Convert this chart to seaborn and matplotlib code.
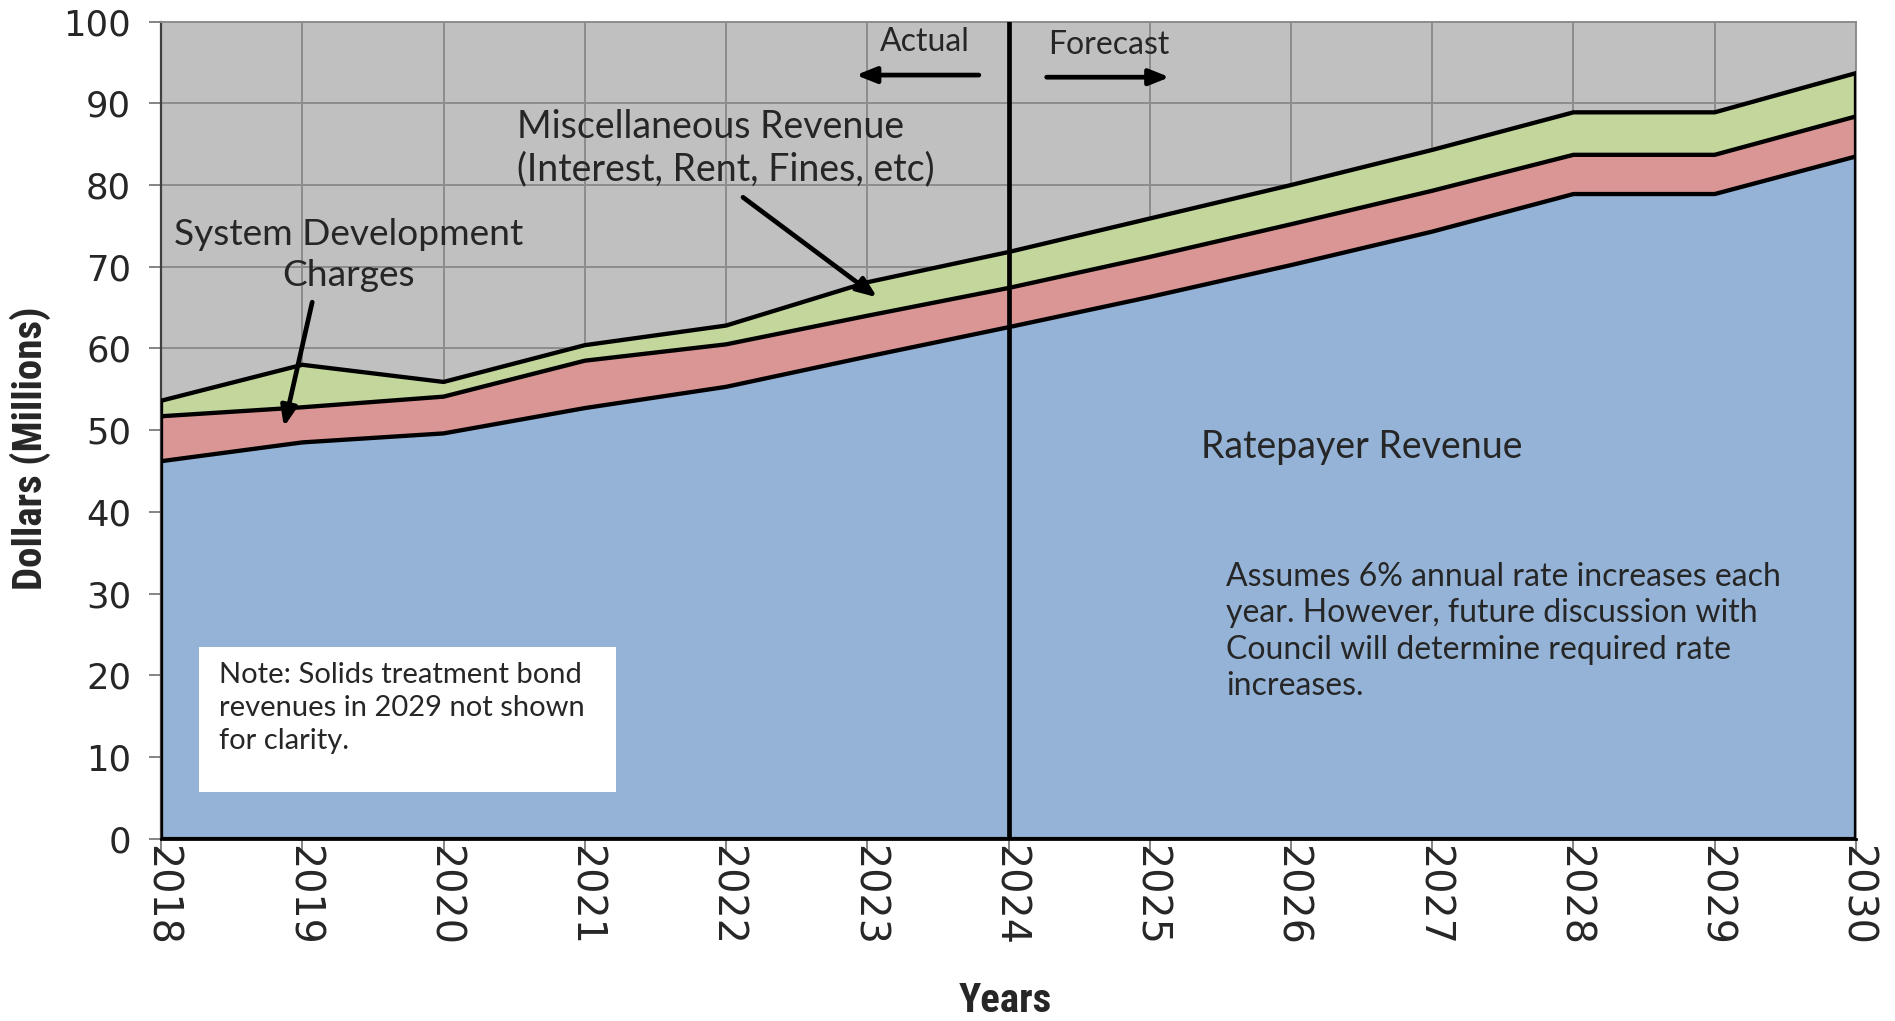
import numpy as np
import pandas as pd
import matplotlib
matplotlib.use("Agg")
import matplotlib.pyplot as plt
from matplotlib import font_manager
import seaborn as sns

# Revenue components, $ millions
years = [2018, 2019, 2020, 2021, 2022, 2023, 2024, 2025, 2026, 2027, 2028, 2029, 2030]
ratepayer = [46.2, 48.5, 49.6, 52.7, 55.3, 59.0, 62.6, 66.3, 70.2, 74.3, 78.9, 78.9, 83.5]
sdc = [5.5, 4.3, 4.5, 5.8, 5.2, 5.0, 4.8, 4.9, 5.0, 5.0, 4.8, 4.8, 4.9]
misc = [1.9, 5.2, 1.8, 1.9, 2.3, 4.1, 4.4, 4.7, 4.8, 5.0, 5.2, 5.2, 5.3]

y_ticks = [0, 10, 20, 30, 40, 50, 60, 70, 80, 90, 100]
split_year = 2024

sns.set_theme(style="white")
plt.rcParams["font.family"] = ["DejaVu Sans"]

TXT = ["Lato", "DejaVu Sans"]

# bold narrow face for the axis titles
installed = {f.name for f in font_manager.fontManager.ttflist}
narrow = [n for n in ["Liberation Sans Narrow", "Roboto Condensed", "Open Sans Condensed",
                      "DejaVu Sans Condensed"] if n in installed]
if narrow:
    title_font = dict(family=[narrow[0], "DejaVu Sans"])
else:
    title_font = dict(family=["DejaVu Sans"], fontstretch="condensed")

blue = "#95B3D7"
red = "#D99694"
green = "#C3D69B"
panel = "#C0C0C0"
gridc = "#8C8C8C"

x = np.array(years, dtype=float)
lvl1 = np.array(ratepayer)
lvl2 = lvl1 + np.array(sdc)
lvl3 = lvl2 + np.array(misc)

fig = plt.figure(figsize=(18.95, 10.21), dpi=100)
ax = fig.add_axes([0.085, 0.1786, 0.9794 - 0.085, 0.9788 - 0.1786])
ax.set_facecolor(panel)

# stacked fills
ax.fill_between(x, 0, lvl1, color=blue, lw=0, zorder=2)
ax.fill_between(x, lvl1, lvl2, color=red, lw=0, zorder=2)
ax.fill_between(x, lvl2, lvl3, color=green, lw=0, zorder=2)

# boundaries of each band
bounds = pd.DataFrame({
    "year": np.tile(x, 3),
    "value": np.concatenate([lvl1, lvl2, lvl3]),
    "band": np.repeat(["Ratepayer", "SDC", "Misc"], len(x)),
})
sns.lineplot(data=bounds, x="year", y="value", units="band", estimator=None,
             color="black", lw=3.1, ax=ax, zorder=3, legend=False)
ax.vlines([x[0], x[-1]], 0, [lvl3[0], lvl3[-1]], color="black", lw=3.1, zorder=3)
ax.axhline(0, color="black", lw=3, zorder=3)

# actual / forecast divider
ax.axvline(split_year, color="black", lw=3.4, zorder=4)

ax.set_xlim(years[0], years[-1])
ax.set_ylim(0, 100)
ax.set_xticks(years)
ax.set_xticklabels([str(y) for y in years], rotation=-90, fontsize=28.5)
ax.set_yticks(y_ticks)
ax.set_yticklabels([str(v) for v in y_ticks], fontsize=25.5)
ax.grid(True, color=gridc, lw=1.4, zorder=0)
ax.set_axisbelow(True)
ax.tick_params(axis="both", which="both", direction="out", length=8.5, width=1.2,
               color="#707070", left=True, bottom=True)
ax.tick_params(axis="y", pad=13)
ax.tick_params(axis="x", pad=-4)
ax.set_xlabel("")
ax.set_ylabel("")
for s in ["top", "right"]:
    ax.spines[s].set_color(gridc)
    ax.spines[s].set_linewidth(1.4)
ax.spines["left"].set_color("#404040")
ax.spines["left"].set_linewidth(1.6)
ax.spines["bottom"].set_color("black")
ax.spines["bottom"].set_linewidth(2)

fig.text(30 / 1895, 1 - 448 / 1021, "Dollars (Millions)", rotation=90,
         ha="center", va="center", fontsize=29.5, fontweight="bold", **title_font)
fig.text(1005.6 / 1895, 1 - 1000.7 / 1021, "Years", ha="center", va="center",
         fontsize=29.5, fontweight="bold", **title_font)

arrow_kw = dict(arrowstyle="-|>,head_length=1.0,head_width=0.4", color="black",
                lw=3.4, shrinkA=0, shrinkB=0)

# Actual / Forecast markers
ax.text(2023.41, 97.45, "Actual", ha="center", va="center", fontsize=23, family=TXT, zorder=5)
ax.annotate("", xy=(2022.92, 93.46), xytext=(2023.79, 93.46), arrowprops=arrow_kw, zorder=5)
ax.text(2024.71, 97.16, "Forecast", ha="center", va="center", fontsize=23, family=TXT, zorder=5)
ax.annotate("", xy=(2025.14, 93.2), xytext=(2024.27, 93.2), arrowprops=arrow_kw, zorder=5)

# series callouts
ax.text(2019.33, 71.4, "System Development\nCharges", ha="center", va="center",
        fontsize=26.7, family=TXT, linespacing=1.3, zorder=5)
ax.annotate("", xy=(2018.87, 50.4), xytext=(2019.07, 65.66), arrowprops=arrow_kw, zorder=5)

ax.text(2020.52, 84.5, "Miscellaneous Revenue\n(Interest, Rent, Fines, etc)", ha="left",
        va="center", fontsize=27, family=TXT, linespacing=1.24, zorder=5)
ax.annotate("", xy=(2023.07, 66.25), xytext=(2022.12, 78.5), arrowprops=arrow_kw, zorder=5)

ax.text(2025.36, 47.9, "Ratepayer Revenue", ha="left", va="center", fontsize=27,
        family=TXT, zorder=5)

ax.text(2025.54, 25.35, "Assumes 6% annual rate increases each\nyear. However, future discussion with\n"
        "Council will determine required rate\nincreases.", ha="left", va="center",
        fontsize=23, family=TXT, linespacing=1.27, zorder=5)

# note box
ax.add_patch(plt.Rectangle((2018.27, 5.75), 2.95, 17.75, facecolor="white",
                           edgecolor="none", zorder=5))
ax.text(2018.41, 16.0, "Note: Solids treatment bond\nrevenues in 2029 not shown\nfor clarity.",
        ha="left", va="center", fontsize=21, family=TXT, linespacing=1.33, zorder=6)

fig.savefig("out.png", dpi=100)
